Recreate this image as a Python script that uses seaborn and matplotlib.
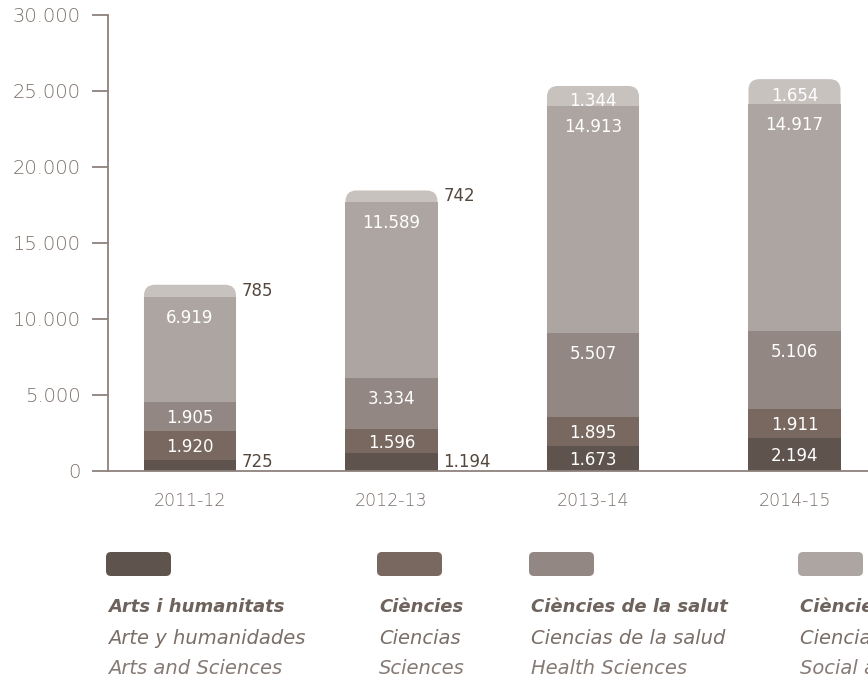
import matplotlib
matplotlib.use("Agg")
import matplotlib.pyplot as plt
from matplotlib.patches import FancyBboxPatch
import seaborn as sns
import pandas as pd
import numpy as np

# ---- data ----
years = ["2011-12", "2012-13", "2013-14", "2014-15"]
arts = [725, 1194, 1673, 2194]
ciencies = [1920, 1596, 1895, 1911]
salut = [1905, 3334, 5507, 5106]
socials = [6919, 11589, 14913, 14917]
enginyeria = [785, 742, 1344, 1654]
y_ticks = [0, 5000, 10000, 15000, 20000, 25000, 30000]
y_tick_labels = ["0", "5.000", "10.000", "15.000", "20.000", "25.000", "30.000"]

legend_ca = ["Arts i humanitats", "Ciències", "Ciències de la salut", "Ciències socials i jurídiques"]
legend_es = ["Arte y humanidades", "Ciencias", "Ciencias de la salud", "Ciencias sociales y jurídicas"]
legend_en = ["Arts and Sciences", "Sciences", "Health Sciences", "Social and Legal Sciences"]

colors = ["#5e534d", "#78685f", "#928782", "#ada5a1", "#c8c2bf"]
series = [arts, ciencies, salut, socials, enginyeria]

FONT = "DejaVu Sans"
sns.set_theme(style="white")
plt.rcParams["font.family"] = [FONT]

W, H = 868, 684
fig = plt.figure(figsize=(W / 100, H / 100), dpi=100)
ax_l, ax_r, ax_b, ax_t = 108, 868, 471, 15
ax = fig.add_axes([ax_l / W, 1 - ax_b / H, (ax_r - ax_l) / W, (ax_b - ax_t) / H])

df = pd.DataFrame({"year": years})
cums = np.cumsum(np.array(series), axis=0)  # cumulative per layer
bar_w = 0.457

# draw from total (back) to first layer (front)
for k in range(len(series) - 1, -1, -1):
    df["v"] = cums[k]
    n_before = len(ax.patches)
    sns.barplot(data=df, x="year", y="v", color=colors[k], width=bar_w,
                saturation=1, ax=ax, order=years, errorbar=None, linewidth=0)
    if k == len(series) - 1:
        new = ax.patches[n_before:]
        for p in list(new):
            x0, y0, w, h = p.get_x(), p.get_y(), p.get_width(), p.get_height()
            p.remove()
            fb = FancyBboxPatch((x0, y0), w, h,
                                boxstyle="round,pad=0,rounding_size=0.055",
                                mutation_aspect=13000, facecolor=colors[k],
                                edgecolor="none", zorder=1)
            ax.add_patch(fb)

ax.set_xlim(-(190 - 108) / 201.5, (868 - 190) / 201.5)
ax.set_ylim(0, 30000)
ax.set_xlabel("")
ax.set_ylabel("")
ax.set_yticks(y_ticks)
ax.set_yticklabels(y_tick_labels)

axis_col = "#8d817c"
tick_col = "#7b6f6a"
for s in ["top", "right"]:
    ax.spines[s].set_visible(False)
for s in ["left", "bottom"]:
    ax.spines[s].set_color(axis_col)
    ax.spines[s].set_linewidth(1.3)
ax.tick_params(axis="y", which="major", left=True, length=11.5, width=1.3,
               color=axis_col, pad=8, labelsize=14, labelcolor=tick_col)
ax.tick_params(axis="x", bottom=False, pad=9, labelsize=12.5, labelcolor=tick_col)
for lab in ax.get_yticklabels() + ax.get_xticklabels():
    lab.set_fontweight(200)

px_per_unit = (ax_b - ax_t) / 30000.0
off = 21 / px_per_unit  # px below segment top, in data units

lab_kw = dict(fontsize=12, family=[FONT])
for i, yr in enumerate(years):
    bottom = 0
    for k, s in enumerate(series):
        v = s[i]
        top = bottom + v
        txt = f"{v:,}".replace(",", ".")
        if v < 1000 or (v < 1400 and k == 0):
            dy = 250 if k == 0 and v < 1000 else 0
            ax.text(i + bar_w / 2 + 0.03, bottom + v / 2 + dy, txt, ha="left", va="center",
                    color="#54483f", **lab_kw)
        else:
            if k == len(series) - 1:
                y = bottom + v / 2 - 300
            elif v < 2400:
                y = bottom + v / 2 - 120
            else:
                y = top - off
            ax.text(i, y, txt, ha="center", va="center", color="white", **lab_kw)
        bottom = top

# ---- legend ----
lax = fig.add_axes([0, 0, 1, 1])
lax.set_xlim(0, W)
lax.set_ylim(H, 0)
lax.axis("off")
leg_x = [106, 377, 529, 798]
for j in range(4):
    sw = FancyBboxPatch((leg_x[j], 552), 65, 24,
                        boxstyle="round,pad=0,rounding_size=5",
                        facecolor=colors[j], edgecolor="none")
    lax.add_patch(sw)
    lax.text(leg_x[j] + 2, 607, legend_ca[j], ha="left", va="center", fontsize=13,
             style="italic", fontweight="bold", color="#6e625c")
    lax.text(leg_x[j] + 2, 638, legend_es[j], ha="left", va="center", fontsize=14,
             style="italic", color="#7a6e69")
    lax.text(leg_x[j] + 2, 668, legend_en[j], ha="left", va="center", fontsize=14,
             style="italic", fontweight=200, color="#857a75")

fig.savefig("out.png", dpi=100)
